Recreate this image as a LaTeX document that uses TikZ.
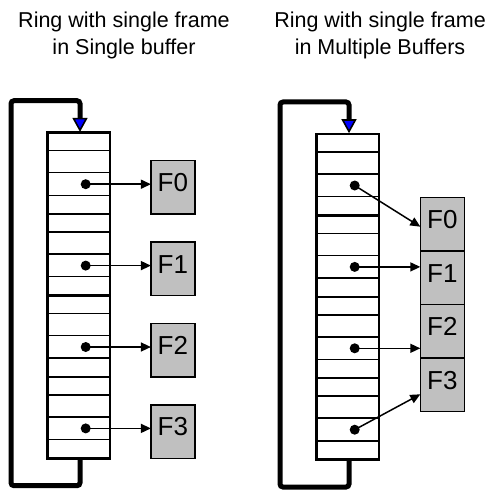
\documentclass[tikz,border=0pt]{standalone}
\usepackage{fontspec}
\setmainfont{Liberation Sans}
\usetikzlibrary{arrows.meta,calc}

\definecolor{framegray}{RGB}{192,192,192}

\begin{document}
\begin{tikzpicture}[x=1pt,y=-1pt,
  block/.style={draw,line width=2.4pt,minimum width=62.4pt,minimum height=81.4pt,outer sep=0pt,inner sep=0pt},
  rowline/.style={line width=1.5pt},
  dot/.style={circle,fill=black,minimum size=10pt,inner sep=0pt,outer sep=0pt},
  fbox/.style={draw,line width=1.6pt,fill=framegray,minimum width=44pt,minimum height=53.5pt,
    inner sep=0pt,outer sep=0pt,font=\fontsize{26}{30}\selectfont,text height=18.6pt,text depth=10pt},
  ptr/.style={line width=1.5pt,-{Triangle[length=10pt,width=9pt]}},
  ringloop/.style={line width=5pt,rounded corners=3pt,
    -{Triangle[length=14pt,width=15pt,fill=blue,line width=1.6pt]}},
  title/.style={align=center,font=\fontsize{21.5}{27}\selectfont,inner sep=0pt}
]
\useasboundingbox (0,0) rectangle (494,489);

% titles
\node[title] (tleft)  at (124,35) {Ring with single frame\\in Single buffer};
\node[title] (tright) at (380,35) {Ring with single frame\\in Multiple Buffers};

% two rings of four buffers each, with the return loop
\foreach \p/\dx/\dy in {L/0/0, R/269/1.3} {
  \begin{scope}[shift={(\dx,\dy)}]
    \foreach \i in {0,...,3} {
      \node[block] (\p b\i) at (78.5,{173.4+81.4*\i}) {};
      \foreach \o in {18,40,62.6}
        \draw[rowline] ([yshift=-\o pt]\p b\i.north west) -- ([yshift=-\o pt]\p b\i.north east);
      \node[dot] (\p d\i) at ([xshift=7.2pt,yshift=-51.5pt]\p b\i.north) {};
    }
    \draw[ringloop] ([xshift=1.5pt]\p b3.south) |- (11,485.7) |- (80,100.7)
      -- ([xshift=1.5pt,yshift=0.8pt]\p b0.north);
  \end{scope}
}

% frames of the single buffer ring
\foreach \i in {0,...,3} {
  \node[fbox] (Lf\i) at (172.9,{187.4+81.4*\i}) {F\i};
  \draw[ptr] (Ld\i.center) -- (Ld\i.center -| Lf\i.west);
}

% frames spread over multiple buffers
\foreach \i in {0,...,3}
  \node[fbox] (Rf\i) at (442.3,{224.1+53.6*\i}) {F\i};
\draw[ptr] (Rd0.center) -- ([yshift=-2.6pt]Rf0.west);
\draw[ptr] (Rd1.center) -- (Rd1.center -| Rf1.west);
\draw[ptr] (Rd2.center) -- (Rd2.center -| Rf2.west);
\draw[ptr] (Rd3.center) -- ([yshift=-9.4pt]Rf3.west);
\end{tikzpicture}
\end{document}
